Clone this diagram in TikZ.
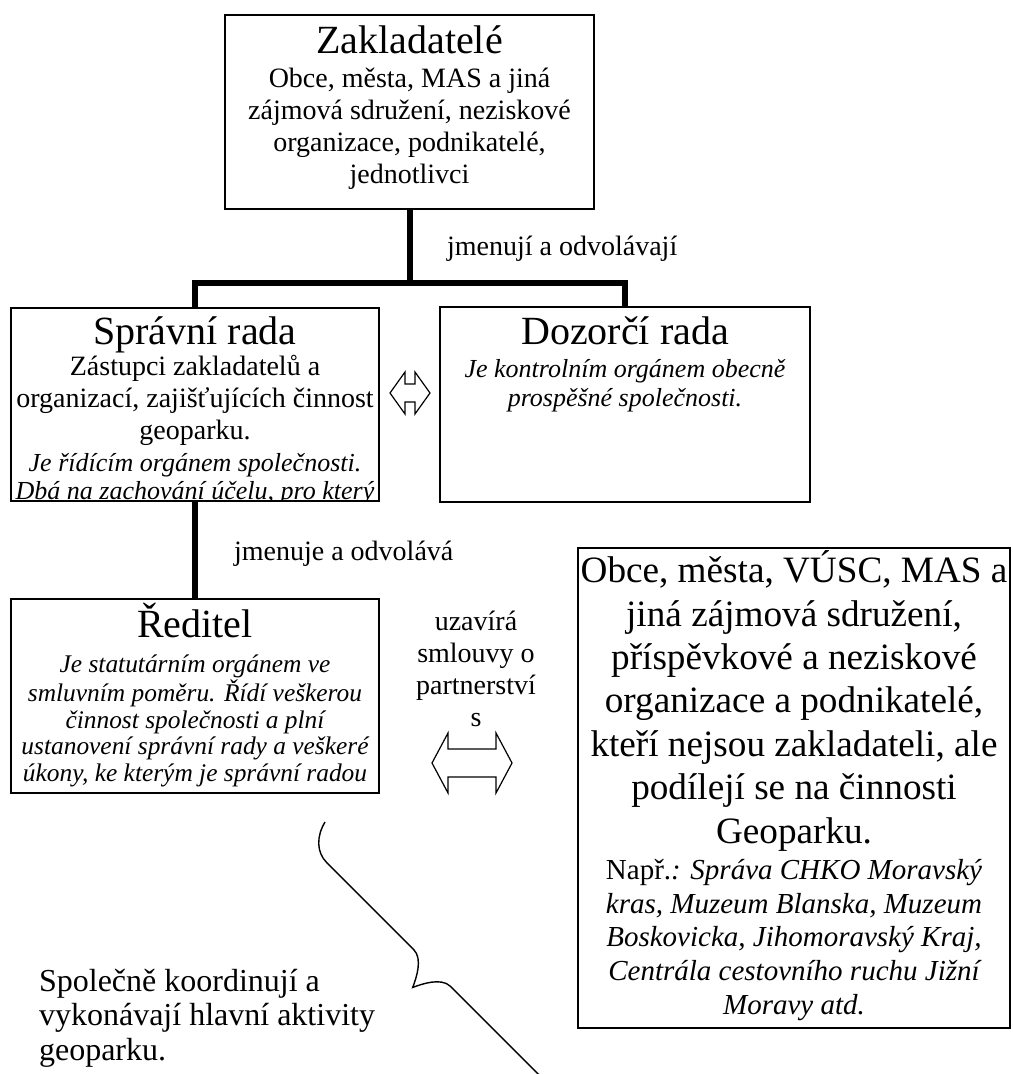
\documentclass[tikz,border=0pt]{standalone}
\usepackage{fontspec}
\setmainfont{Liberation Serif}
\usetikzlibrary{positioning}

\begin{document}
\begin{tikzpicture}[x=0.5pt, y=-0.5pt,
  ramecek/.style={rectangle, draw, line width=0.9pt},
  nadpis/.style={anchor=base, font=\fontsize{20}{23}\selectfont},
  obsah/.style={anchor=base, align=center, font=\fontsize{14}{16}\selectfont},
  kurziva/.style={anchor=base, align=center, font=\fontsize{13}{14}\selectfont\itshape},
  spoj/.style={line width=3pt},
  obousmerna/.style={draw, line width=0.6pt, line join=miter}]

\useasboundingbox (0,0) rectangle (1012,1074);

% Zakladatele

\node[ramecek, minimum width=184.5pt, minimum height=97pt] (Zakladatele) at (409.5,112) {};
\node[nadpis] (ZakladateleNadpis) at (409.5,54) {Zakladatelé};
\node[obsah]  (ZakladateleText)   at (409.5,184) {Obce, města, MAS a jiná\\ zájmová sdružení, neziskové\\ organizace, podnikatelé,\\ jednotlivci};

\coordinate (Rozcestnik) at (409.5,283);
\node[obsah, anchor=base west] (Jmenuji) at (440,256) {jmenují a odvolávají};

% Spravni rada

\node[ramecek, minimum width=184pt, minimum height=96.5pt] (SpravniRada) at (195,404.5) {};
\node[nadpis] (SpravniRadaNadpis) at (195,345) {Správní rada};
\node[obsah]  (SpravniRadaText)   at (195,439) {Zástupci zakladatelů a\\ organizací, zajišťujících činnost\\ geoparku.};
\begin{scope}
\clip (SpravniRada.south west) rectangle (SpravniRada.north east);
\node[kurziva] (SpravniRadaKurziva) at (195,499) {Je řídícím orgánem společnosti.\\ Dbá na zachování účelu, pro který};
\end{scope}

% Dozorci rada

\node[ramecek, minimum width=185pt, minimum height=97.5pt] (DozorciRada) at (625,404.5) {};
\node[nadpis]  (DozorciRadaNadpis) at (625,345) {Dozorčí rada};
\node[kurziva, font=\fontsize{13}{14.5}\selectfont\itshape] (DozorciRadaKurziva) at (625,407) {Je kontrolním orgánem obecně\\ prospěšné společnosti.};

\coordinate (SipkaRady) at (410,393);
\draw[obousmerna] (SipkaRady) ++(-20,0) -- ++(15,-21) -- ++(0,12) -- ++(10,0) -- ++(0,-12) -- ++(15,21)
  -- ++(-15,21) -- ++(0,-12) -- ++(-10,0) -- ++(0,12) -- cycle;

% Reditel

\node[obsah, anchor=base west] (Jmenuje) at (227,560) {jmenuje a odvolává};

\node[ramecek, minimum width=184pt, minimum height=97pt] (Reditel) at (195,696) {};
\node[nadpis]  (ReditelNadpis) at (195,637) {Ředitel};
\node[kurziva, font=\fontsize{12.7}{13.25}\selectfont\itshape] (ReditelKurziva) at (195,781) {Je statutárním orgánem ve\\ smluvním poměru. Řídí veškerou\\ činnost společnosti a plní\\ ustanovení správní rady a veškeré\\ úkony, ke kterým je správní radou};

% Partneri

\node[obsah] (Smlouvy) at (476,726) {uzavírá\\ smlouvy o\\ partnerství\\ s};

\coordinate (SipkaSmlouvy) at (472,763);
\draw[obousmerna] (SipkaSmlouvy) ++(-40,0) -- ++(16,-30) -- ++(0,16) -- ++(48,0) -- ++(0,-16) -- ++(16,30)
  -- ++(-16,30) -- ++(0,-16) -- ++(-48,0) -- ++(0,16) -- cycle;

\node[ramecek, minimum width=216pt, minimum height=240pt] (Partneri) at (794,788) {};
\node[obsah, font=\fontsize{18.6}{21.7}\selectfont] (PartneriText) at (794,843) {Obce, města, VÚSC, MAS a\\ jiná zájmová sdružení,\\ příspěvkové a neziskové\\ organizace a podnikatelé,\\ kteří nejsou zakladateli, ale\\ podílejí se na činnosti\\ Geoparku.};
\node[kurziva, font=\fontsize{14.5}{16.8}\selectfont\itshape] (PartneriPriklady) at (794,1014) {{\upshape Např.}: Správa CHKO Moravský\\ kras, Muzeum Blanska, Muzeum\\ Boskovicka, Jihomoravský Kraj,\\ Centrála cestovního ruchu Jižní\\ Moravy atd.};

% Spolecne

\node[anchor=base west, align=left, font=\fontsize{16}{17.25}\selectfont] (SpolecnaCinnost) at (32,1060) {Společně koordinují a\\ vykonávají hlavní aktivity\\ geoparku.};

\begin{scope}[shift={(325,822)}, rotate=-45]
\draw[line width=0.7pt] (0,0) .. controls (4,16) and (15,27.5) .. (30,27.5) -- (153,27.5)
  .. controls (166,27.5) and (175,46) .. (179,55) .. controls (183,46) and (192,27.5) .. (205,27.5)
  -- (328,27.5) .. controls (343,27.5) and (354,16) .. (358,0);
\end{scope}

% Spoje

\draw[spoj] (Zakladatele.south) -- (Rozcestnik);
\draw[spoj] (SpravniRada.north) |- (Rozcestnik) -| (DozorciRada.north);
\draw[spoj] (SpravniRada.south) -- (Reditel.north);

\end{tikzpicture}
\end{document}
